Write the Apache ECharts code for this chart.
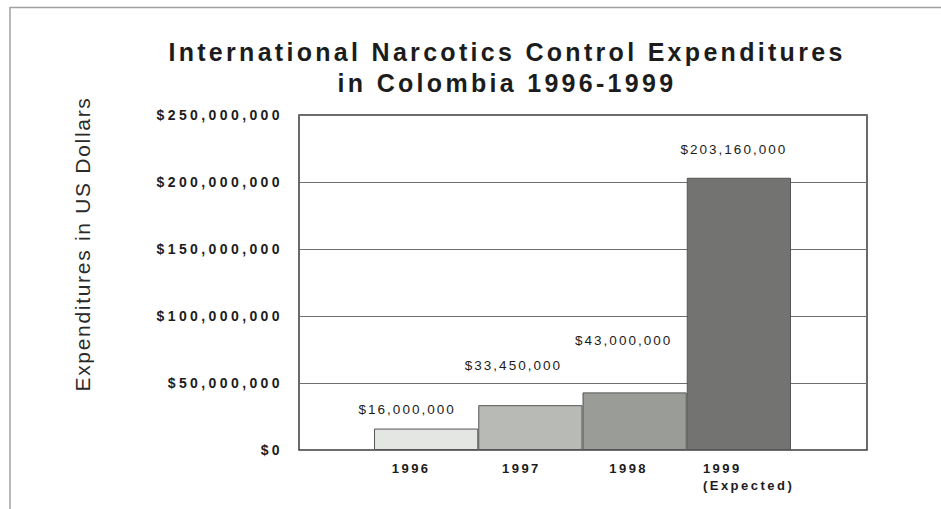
<!DOCTYPE html>
<html>
<head>
<meta charset="utf-8">
<script src="https://cdn.jsdelivr.net/npm/echarts@6/dist/echarts.min.js"></script>
<style>
  html, body { margin: 0; padding: 0; background: #ffffff; }
  #chart { width: 941px; height: 509px; }
  text[style*="25px"] { letter-spacing: 3.3px; }
  text[style*="14px"] { letter-spacing: 3.4px; }
  text[style*="13px"] { letter-spacing: 2.5px; }
  text[style*="13.5px"] { letter-spacing: 2px; }
  text[style*="21px"] { letter-spacing: 1.7px; }
</style>
</head>
<body>
<div id="chart"></div>
<script>
// ---- data ----
const titleText = 'International Narcotics Control Expenditures\nin Colombia 1996-1999';
const yAxisTitle = 'Expenditures in US Dollars';
const categories = ['1996', '1997', '1998', '1999\n(Expected)'];
const expenditures = [16000000, 33450000, 43000000, 203160000];
const yMin = 0;
const yMax = 250000000;
const yStep = 50000000;

// ---- styling (not data) ----
const barColors = ['#e4e6e3', '#b8bab6', '#9a9c98', '#737472'];
const labelOffsets = [[-19, -12], [-17, -33], [-11, -45], [-5, -21]];
const tickPadRight = [30, 18, 12, 0];
const FONT = "'Liberation Sans', Arial, sans-serif";
const TXT = '#1c1c1c';

function money(v) { return '$' + Number(v).toLocaleString('en-US'); }

const chart = echarts.init(document.getElementById('chart'), null, { renderer: 'svg' });

const barData = expenditures.map((v, i) => ({
  value: v,
  itemStyle: { color: barColors[i] },
  label: { offset: labelOffsets[i] }
}));

const xData = categories.map((c, i) => ({
  value: c,
  textStyle: c.indexOf('\n') >= 0 ? { padding: [0, 0, 0, 20] } : { padding: [0, tickPadRight[i], 0, 0] }
}));

chart.setOption({
  animation: false,
  backgroundColor: '#ffffff',
  title: {
    text: titleText,
    left: 502,
    top: 31,
    textAlign: 'center',
    textStyle: { fontSize: 25, fontWeight: 'bold', fontFamily: FONT, color: TXT, lineHeight: 31 }
  },
  graphic: [
    { type: 'line', shape: { x1: 10, y1: 7.5, x2: 941, y2: 7.5 }, style: { stroke: '#a0a0a0', lineWidth: 1.5 }, silent: true },
    { type: 'line', shape: { x1: 10, y1: 7, x2: 10, y2: 509 }, style: { stroke: '#a0a0a0', lineWidth: 1.5 }, silent: true },
    {
      type: 'text', x: 82, y: 244, rotation: Math.PI / 2,
      style: { text: yAxisTitle, fontSize: 21, fontFamily: FONT, fill: '#2a2a2a', textAlign: 'center', textVerticalAlign: 'middle' }
    }
  ],
  grid: [
    { left: 299, right: 74, top: 115, bottom: 59, show: true, borderColor: '#3a3a3a', borderWidth: 1.5, backgroundColor: 'transparent' },
    { left: 374, right: 150, top: 115, bottom: 59 }
  ],
  xAxis: [
    { gridIndex: 0, type: 'value', min: 0, max: 1, show: false },
    {
      gridIndex: 1, type: 'category', data: xData,
      axisLine: { show: false }, axisTick: { show: false },
      axisLabel: {
        margin: 10, fontSize: 13, fontWeight: 'bold', fontFamily: FONT, color: TXT, lineHeight: 17, interval: 0,
        formatter: function (v) {
          if (v.indexOf('\n') >= 0) {
            return v.split('\n').map(s => '{e|' + s + '}').join('\n');
          }
          return v;
        },
        rich: { e: { width: 92, align: 'left', fontSize: 13, fontWeight: 'bold', fontFamily: FONT, color: TXT, lineHeight: 17 } }
      }
    }
  ],
  yAxis: [
    {
      gridIndex: 0, type: 'value', min: yMin, max: yMax, interval: yStep,
      axisLine: { show: false }, axisTick: { show: false },
      splitLine: { show: true, lineStyle: { color: '#6e6e6e', width: 1 } },
      axisLabel: { margin: 16, fontSize: 14, fontWeight: 'bold', fontFamily: FONT, color: TXT, formatter: money }
    },
    {
      gridIndex: 1, type: 'value', min: yMin, max: yMax, interval: yStep, show: false,
      splitLine: { show: false }
    }
  ],
  series: [{
    type: 'bar',
    xAxisIndex: 1, yAxisIndex: 1,
    data: barData,
    barCategoryGap: 0,
    itemStyle: { borderColor: '#555555', borderWidth: 1 },
    label: {
      show: true, position: 'top', distance: 0,
      fontSize: 13.5, fontFamily: FONT, color: TXT,
      formatter: p => money(p.value)
    }
  }]
});
</script>
</body>
</html>
